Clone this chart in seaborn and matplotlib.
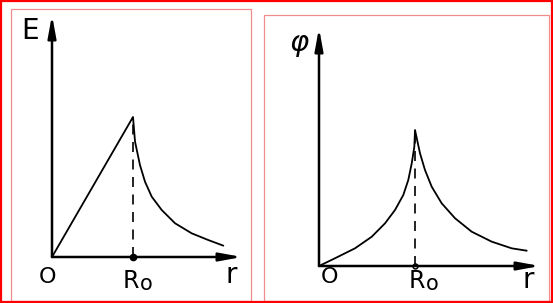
import matplotlib
matplotlib.use("Agg")
import matplotlib.pyplot as plt
from matplotlib.patches import Rectangle
import seaborn as sns

sns.set_theme(style="white")
plt.rcParams['font.family'] = ['DejaVu Sans']

# ---------------- data (R0 = 1, peak = 1) ----------------
R0 = 1.0
# Field strength E(r): linear inside, falling outside
E_r = [0.0, 1.0, 1.025, 1.086, 1.148, 1.231, 1.354, 1.519, 1.725, 1.930, 2.115]
E_v = [0.0, 1.0, 0.824, 0.657, 0.538, 0.431, 0.336, 0.241, 0.169, 0.121, 0.081]
E_peak = 1.0

# Potential phi(r): rising (convex) inside, falling outside
P_r = [0.0, 0.167, 0.375, 0.549, 0.688, 0.792, 0.878, 0.930, 0.966, 0.993, 1.0,
       1.052, 1.104, 1.174, 1.278, 1.417, 1.591, 1.799, 2.007, 2.164]
P_v = [0.0, 0.057, 0.130, 0.215, 0.314, 0.412, 0.522, 0.632, 0.755, 0.877, 1.0,
       0.829, 0.706, 0.583, 0.461, 0.351, 0.252, 0.179, 0.130, 0.1125]
P_peak = 1.0

y_labels = ["E", "φ"]
x_label = "r"
origin_label = "O"
r0_main, r0_sub = "R", "o"

W, H = 553, 303
fig = plt.figure(figsize=(W / 100, H / 100), dpi=100)
fig.patch.set_facecolor("white")


def fx(px):
    return px / W


def fy(py):
    return 1 - py / H


def px_axes(x0, y_top, x1, y_bot):
    return fig.add_axes([fx(x0), fy(y_bot), (x1 - x0) / W, (y_bot - y_top) / H])


# frames
fig.add_artist(Rectangle((fx(1), fy(302)), (W - 2) / W, 301 / H, transform=fig.transFigure,
                         fill=False, edgecolor="#ff0000", lw=1.6, zorder=10))
fig.add_artist(Rectangle((fx(10.5), fy(301)), 240 / W, 292 / H, transform=fig.transFigure,
                         fill=False, edgecolor="#f28b8b", lw=0.9, zorder=9))
fig.add_artist(Rectangle((fx(263.5), fy(300.5)), 285.5 / W, 285.5 / H, transform=fig.transFigure,
                         fill=False, edgecolor="#f28b8b", lw=0.9, zorder=9))


def panel(box, xmax, ymax, rx, ry, peak, dot_style):
    ax = px_axes(*box)
    ax.set_xlim(0, xmax)
    ax.set_ylim(0, ymax)
    ax.axis("off")
    sns.lineplot(x=rx, y=ry, ax=ax, color="black", lw=1.3, sort=False,
                 errorbar=None, clip_on=False)
    ax.lines[-1].set_solid_joinstyle("round")
    ax.plot([R0, R0], [0, peak], color="black", lw=1.2, dashes=(6, 4.5), clip_on=False)
    arrow = dict(arrowstyle="-|>,head_length=1.2,head_width=0.22", lw=1.8,
                 color="black", shrinkA=0, shrinkB=0, mutation_scale=11)
    ax.annotate("", xy=(1, 0), xytext=(0, 0), xycoords="axes fraction", arrowprops=arrow)
    ax.annotate("", xy=(0, 1), xytext=(0, 0), xycoords="axes fraction", arrowprops=arrow)
    if dot_style == "filled":
        ax.plot([R0], [0], "o", ms=4.5, color="black", clip_on=False)
    else:
        ax.plot([R0], [0], "o", ms=3.5, mfc="white", mec="black", mew=1.1, clip_on=False)
    return ax


panel((52, 15, 242, 257), 190 / 81, 242 / 140, E_r, E_v, E_peak, "filled")
panel((319, 28, 540, 266), 221 / 96, 238 / 136, P_r, P_v, P_peak, "open")

txt = dict(color="black", ha="center", va="center")
# left labels
fig.text(fx(30), fy(31), y_labels[0], fontsize=20, **txt)
fig.text(fx(47.5), fy(277), origin_label, fontsize=16, **txt)
fig.text(fx(130.5), fy(281), r0_main, fontsize=17, **txt)
fig.text(fx(146.5), fy(284), r0_sub, fontsize=15, **txt)
fig.text(fx(231), fy(275), x_label, fontsize=20, **txt)
# right labels
fig.text(fx(299), fy(43), y_labels[1], fontsize=21, style="italic", **txt)
fig.text(fx(329), fy(277), origin_label, fontsize=16, **txt)
fig.text(fx(416.5), fy(281), r0_main, fontsize=17, **txt)
fig.text(fx(432.5), fy(284), r0_sub, fontsize=15, **txt)
fig.text(fx(528), fy(280), x_label, fontsize=20, **txt)

fig.savefig("out.png", dpi=100)
